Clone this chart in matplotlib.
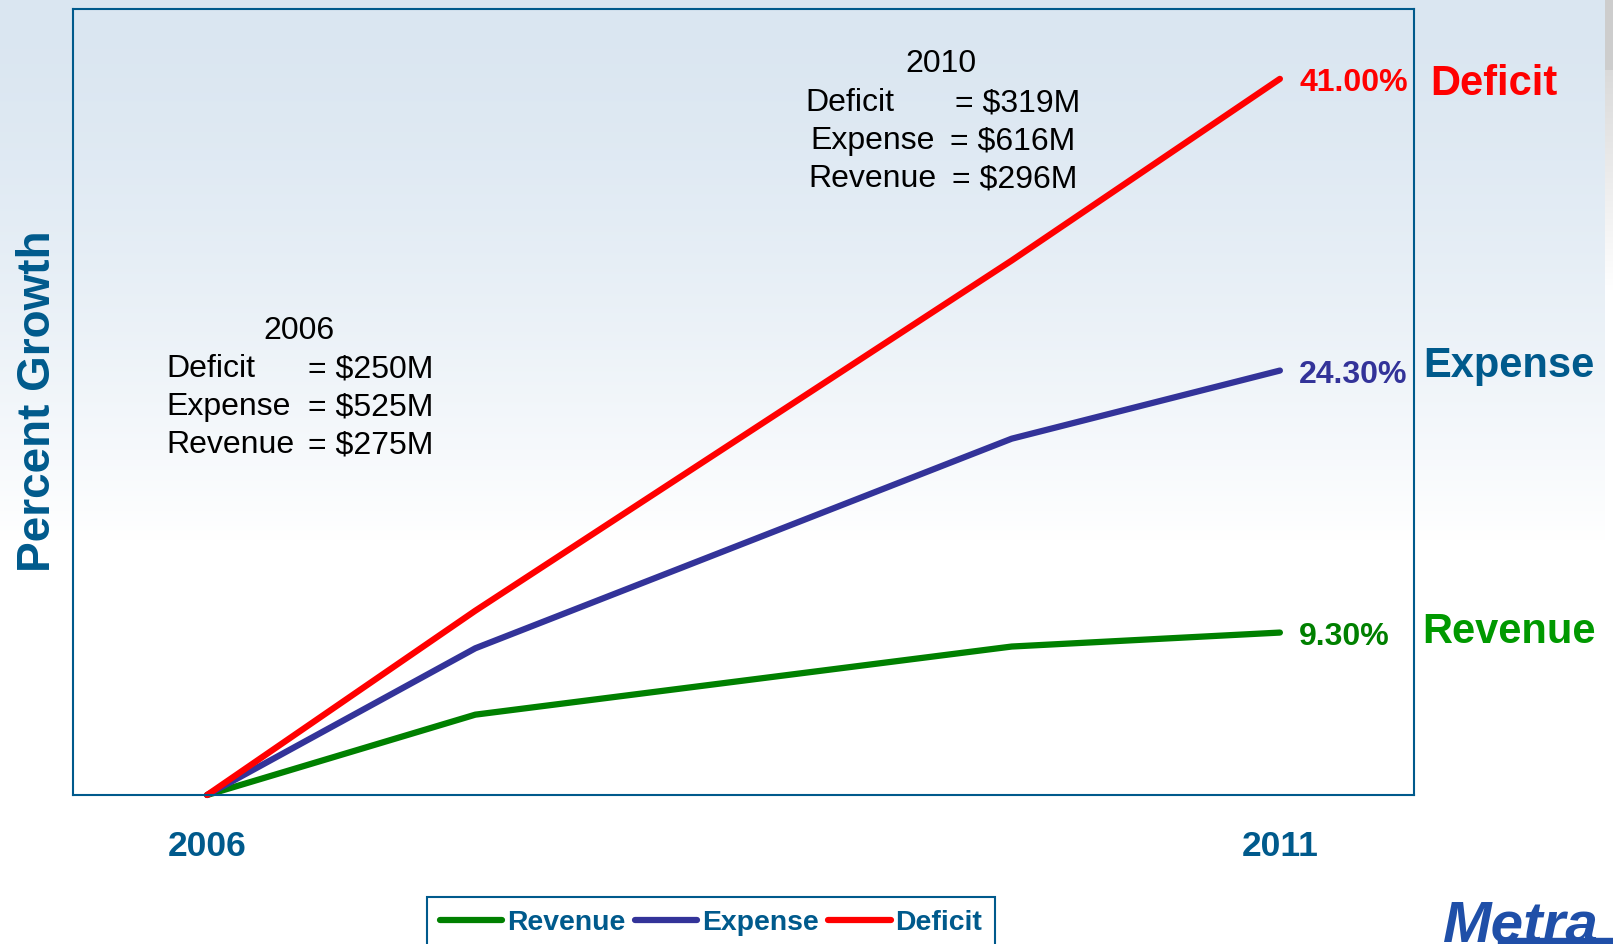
import numpy as np
import matplotlib.pyplot as plt
from matplotlib.patches import Rectangle

plt.rcParams['font.family'] = ['Liberation Sans', 'DejaVu Sans']

W, H = 1613, 944

# data (percent growth since 2006)
positions = [0, 1, 3, 4]
revenue = [0.0, 4.6, 8.5, 9.3]
expense = [0.0, 8.4, 20.4, 24.3]
deficit = [0.0, 10.55, 30.6, 41.0]
tick_pos = [0, 4]
tick_labels = ['2006', '2011']
end_labels = {'Revenue': '9.30%', 'Expense': '24.30%', 'Deficit': '41.00%'}

block_2006 = [('Deficit', '= $250M'), ('Expense', '= $525M'), ('Revenue', '= $275M')]
block_2010 = [('Deficit', '= $319M'), ('Expense', '= $616M'), ('Revenue', '= $296M')]

dark_blue = '#005a8c'
c_rev, c_exp, c_def = '#008000', '#333399', '#ff0000'


def fx(px):
    return px / W


def fy(py):
    return 1 - py / H


fig = plt.figure(figsize=(W / 100, H / 100), dpi=100)

# background: light blue gradient fading to white, gray strip at right edge
yy = np.arange(H)[:, None]
t = np.clip(yy / 540.0, 0, 1) ** 1.5
top = np.array([218, 230, 241]) / 255.0
bg = top[None, None, :] + (1 - top[None, None, :]) * t[:, :, None]
bg = np.repeat(bg, W, axis=1)
g = np.where(yy < 70, 205, 218 + 37 * np.clip((yy - 70) / 220.0, 0, 1)) / 255.0
bg[:, 1605:, :] = g[:, :, None]
ax_bg = fig.add_axes([0, 0, 1, 1], zorder=-1)
ax_bg.imshow(bg, aspect='auto', interpolation='nearest', extent=[0, 1, 0, 1])
ax_bg.axis('off')

ax = fig.add_axes([fx(73), fy(795), fx(1414) - fx(73), fy(9) - fy(795)])
ax.set_facecolor('none')

series = [('Revenue', revenue, c_rev), ('Expense', expense, c_exp), ('Deficit', deficit, c_def)]
for name, vals, col in series:
    ax.plot(positions, vals, color=col, lw=4.5, solid_capstyle='round', label=name, clip_on=False)
    ax.annotate(end_labels[name], xy=(positions[-1], vals[-1]), xytext=(14, -8.6),
                textcoords='offset points', ha='left', va='baseline',
                fontsize=23, fontweight='bold', color=col)

ax.set_xlim(-0.5, 4.5)
ax.set_ylim(0, 45)
ax.set_yticks([])
ax.set_xticks(tick_pos, tick_labels)
ax.tick_params(axis='x', length=0, pad=25, labelsize=25.5, labelcolor=dark_blue)
for lab in ax.get_xticklabels():
    lab.set_fontweight('bold')
for sp in ax.spines.values():
    sp.set_color(dark_blue)
    sp.set_linewidth(1.5)

# right-side series names
fig.text(fx(1430), fy(95), 'Deficit', fontsize=30, fontweight='bold', color='#ff0000', va='baseline')
fig.text(fx(1423), fy(377), 'Expense', fontsize=30, fontweight='bold', color=dark_blue, va='baseline')
fig.text(fx(1422), fy(643), 'Revenue', fontsize=30, fontweight='bold', color='#009900', va='baseline')

# y label
fig.text(fx(38), fy(401), 'Percent Growth', rotation=90, fontsize=33, fontweight='bold',
         color=dark_blue, ha='center', va='center')

# info blocks
fs_info = 23
fig.text(fx(299), fy(339), '2006', fontsize=fs_info, ha='center', va='baseline')
for i, (a, b) in enumerate(block_2006):
    fig.text(fx(166), fy(377 + 38 * i), a, fontsize=fs_info, va='baseline')
    fig.text(fx(308), fy(377 + 38 * i), b, fontsize=fs_info, va='baseline')

fig.text(fx(941), fy(72), '2010', fontsize=fs_info, ha='center', va='baseline')
left_x = [805, 810, 808]
right_x = [955, 950, 952]
for i, (a, b) in enumerate(block_2010):
    fig.text(fx(left_x[i]), fy(111 + 38 * i), a, fontsize=fs_info, va='baseline')
    fig.text(fx(right_x[i]), fy(111 + 38 * i), b, fontsize=fs_info, va='baseline')

# legend (its lower edge runs off the bottom of the figure, as in the original)
leg = ax.legend(loc='upper left', bbox_to_anchor=(fx(427), fy(897)), bbox_transform=fig.transFigure,
                ncol=3, frameon=True, fancybox=False, framealpha=1, borderaxespad=0,
                borderpad=0.45, handlelength=2.2, handletextpad=0.17, columnspacing=0.34,
                prop={'size': 20.4, 'weight': 'bold'}, labelcolor=dark_blue)
leg.get_frame().set_edgecolor(dark_blue)
leg.get_frame().set_linewidth(1.5)
leg.get_frame().set_facecolor('white')

# logo
fig.text(fx(1443), fy(942), 'Metra', fontsize=42, fontweight='bold', style='italic',
         color='#1f4fa8', va='baseline')
fig.patches.append(Rectangle((fx(1498), fy(944)), fx(1613) - fx(1498), 6 / H,
                             transform=fig.transFigure, color='#1f4fa8'))

fig.savefig('out.png', dpi=100)
